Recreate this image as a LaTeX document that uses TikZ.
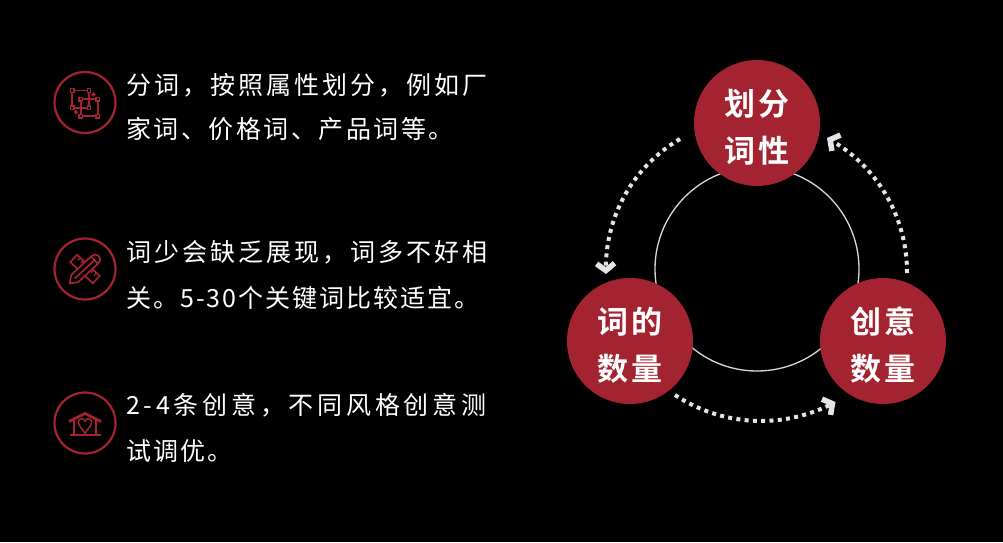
\documentclass[tikz,border=0pt]{standalone}
\usepackage{fontspec}
\usetikzlibrary{arrows.meta,bending}
\newfontfamily\cjktext{Noto Sans CJK SC}
\newfontfamily\cjkhead[LetterSpace=11]{Noto Sans CJK SC Bold}
\newcommand{\spaced}[1]{\addfontfeature{LetterSpace=#1}}
\definecolor{brickred}{HTML}{A32330}
\definecolor{dotgray}{HTML}{E4E4E4}
\tikzset{
  topic/.style={circle,fill=brickred,minimum size=126pt,inner sep=0pt},
  topictext/.style={yshift=-4.5pt,inner sep=0pt,text=white,align=center,
    font=\cjkhead\fontsize{31}{47}\selectfont},
  tipline/.style={anchor=base west,inner sep=0pt,text=white,
    font=\cjktext\fontsize{25}{30}\selectfont},
  badge/.style={circle,draw=brickred,line width=2.2pt,minimum size=61pt,inner sep=0pt},
  glyph/.style={draw=brickred,line width=1.7pt},
  dotflow/.style={dotgray,line width=4pt,dash pattern=on 4pt off 4.3pt,
    -{Straight Barb[length=7pt,width=18pt,line width=5.5pt,flex=0]}},
}
\begin{document}
\begin{tikzpicture}[x=1pt,y=1pt]
  \fill[black] (0,0) rectangle (1003,542);
  \useasboundingbox (0,0) rectangle (1003,542);
  % ring behind the three topics
  \node[circle,draw=white!85!black,line width=1.3pt,minimum size=204pt,inner sep=0pt] (hub) at (757,273) {};
  \node[topic,label={[topictext]center:{划分\\词性}}] (xingtop) at (757,419) {};
  \node[topic,label={[topictext]center:{词的\\数量}}] (shuleft) at (630,201) {};
  \node[topic,label={[topictext]center:{创意\\数量}}] (yiright) at (883,201) {};
  % free ends of the dotted arcs
  \coordinate (a1) at (680,403);
  \coordinate (a2) at (606,268);
  \coordinate (b1) at (675,147);
  \coordinate (b2) at (835.5,140);
  \coordinate (c1) at (907,269);
  \coordinate (c2) at (827,404);
  \draw[dotflow] (a1) to[bend right=31,looseness=.92] (a2);
  \draw[dotflow] (b1) to[bend right=31,looseness=.92] (b2);
  \draw[dotflow] (c1) to[bend right=31,looseness=.92] (c2);
  % left column
  \node[tipline] (tipa) at (126,447) {\spaced{12}分词，按照属性划分，例如厂};
  \node[tipline] (tipb) at (126,403) {\spaced{10}家词、价格词、产品词等。};
  \node[tipline] (tipc) at (126,281) {\spaced{12}词少会缺乏展现，词多不好相};
  \node[tipline] (tipd) at (126,235) {\spaced{8}关。5-30个关键词比较适宜。};
  \node[tipline] (tipe) at (126,128) {\spaced{15}2-4条创意，不同风格创意测};
  \node[tipline] (tipf) at (126,82) {\spaced{9}试调优。};
  \node[badge] (icona) at (85,439.5) {};
  \node[badge] (iconb) at (85,273) {};
  \node[badge] (iconc) at (85,119) {};
  % two overlapping frames
  \begin{scope}[shift={(icona)},glyph]
    \draw (-12.7,-5.3) rectangle (4,12);
    \draw (-4.3,-13.7) rectangle (12.7,3.3);
    \foreach \px/\py in {-12.7/-5.3,-12.7/12,4/-5.3,4/12,-4.3/-13.7,-4.3/3.3,12.7/-13.7,12.7/3.3}
      \filldraw[fill=black,line width=1.3pt] (\px-1.8,\py-1.8) rectangle (\px+1.8,\py+1.8);
    \foreach \px/\py in {8.5/8,-9/-9.7}
      \fill[brickred] (\px-2.3,\py) -- (\px,\py+2.3) -- (\px+2.3,\py) -- (\px,\py-2.3) -- cycle;
  \end{scope}
  % ruler and pencil
  \begin{scope}[shift={(iconb)},glyph]
    \begin{scope}[rotate=-43]
      \draw (-15.5,-5) rectangle (15.5,5);
      \foreach \tx in {-11,-7,-3,3,7,11}
        \draw[line width=1.2pt] (\tx,5) -- (\tx,1.5);
    \end{scope}
    \begin{scope}[rotate=43]
      \filldraw[fill=black] (-21,0) -- (-14,-5) -- (13,-5) -- (17,-4) arc[start angle=-50,end angle=50,radius=5.2] -- (13,5) -- (-14,5) -- cycle;
      \draw (-14,0) -- (13,0);
      \draw (13,-5) -- (13,5);
    \end{scope}
  \end{scope}
  % house with a heart
  \begin{scope}[shift={(iconc)},glyph]
    \draw[line width=2.8pt] (-16,1.5) -- (0,9.5) -- (16,1.5);
    \draw (-10.7,3) -- (-10.7,-11.5) (10.7,3) -- (10.7,-11.5);
    \draw (-15.5,-12) -- (15.5,-12);
    \draw[line width=1.5pt] (0,-10.5) .. controls (-3,-5) and (-6.5,-3) .. (-6.5,1)
      .. controls (-6.5,5) and (-1.5,5.5) .. (0,2)
      .. controls (1.5,5.5) and (6.5,5) .. (6.5,1)
      .. controls (6.5,-3) and (3,-5) .. (0,-10.5);
  \end{scope}
\end{tikzpicture}
\end{document}
